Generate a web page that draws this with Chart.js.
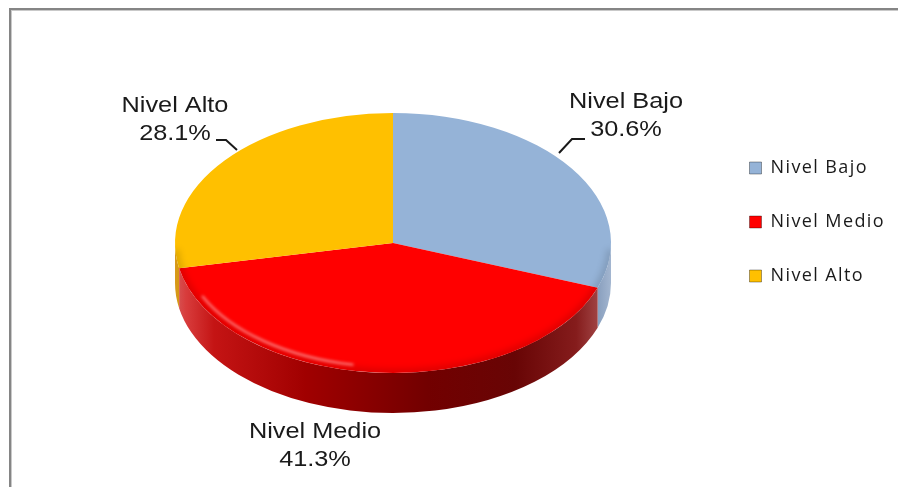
<!DOCTYPE html>
<html>
<head>
<meta charset="utf-8">
<script src="https://cdn.jsdelivr.net/npm/chart.js@4/dist/chart.umd.min.js"></script>
<style>
  html, body { margin: 0; padding: 0; background: #ffffff; overflow: hidden; }
  canvas { display: block; }
</style>
</head>
<body>
<canvas id="chart" width="898" height="487"></canvas>
<script>
// Distribution by level (percent)
const categories = ['Nivel Bajo', 'Nivel Medio', 'Nivel Alto'];
const percentages = [30.6, 41.3, 28.1];
const sliceColors = ['#95b3d7', '#ff0000', '#ffc000'];

// Tilted disc geometry on screen
const DISC = { cx: 393, cy: 243, rx: 218, ry: 130, depth: 40 };

// Horizontal shading of each slice's visible side wall
const sideShades = [
  [[0, '#7d93b3'], [0.85, '#5f779b'], [0.95, '#7890b2'], [1, '#a3b6d0']],
  [[0, '#d65858'], [0.025, '#d83c3c'], [0.09, '#c41414'], [0.3, '#a00000'],
   [0.58, '#720000'], [0.78, '#680505'], [0.92, '#851c1c'], [1, '#b05a5a']],
  [[0, '#d89a1a'], [0.05, '#c88c00'], [0.3, '#a87400'], [1, '#805800']]
];

// Data label placement (centre x, baselines) and leader polylines
const labelSpots = [
  { x: 626, base: [108, 136], leader: [[585, 139], [572, 139], [559, 153]] },
  { x: 315, base: [438, 466], leader: null },
  { x: 175, base: [112, 140], leader: [[216, 140], [226, 140], [237, 150]] }
];

const LEGEND_TRACKING = '1.4px';
const TAU = Math.PI * 2;

// Parts of an angular range that face the viewer (lower half of the ellipse)
function frontSpans(a, b) {
  const spans = [];
  for (let n = -2; n <= 2; n++) {
    const s = Math.max(a + n * TAU, 0);
    const e = Math.min(b + n * TAU, Math.PI);
    if (e > s) spans.push([s, e]);
  }
  return spans;
}

const tiltedPie = {
  id: 'tiltedPie',
  beforeLayout(chart) {
    // legend measures its text with the same tracking it is drawn with
    chart.ctx.letterSpacing = LEGEND_TRACKING;
  },
  afterLayout(chart) {
    chart.ctx.letterSpacing = '0px';
  },
  beforeDraw(chart) {
    const ctx = chart.ctx;
    // outer frame
    ctx.save();
    ctx.fillStyle = '#858585';
    ctx.fillRect(9, 8, 889, 2);
    ctx.fillRect(9, 8, 2, 479);
    ctx.fillStyle = '#c9c9c9';
    ctx.fillRect(11, 10, 887, 1);
    ctx.fillRect(11, 10, 1, 477);
    ctx.restore();
    ctx.letterSpacing = LEGEND_TRACKING;
  },
  beforeDatasetsDraw(chart) {
    const ctx = chart.ctx;
    ctx.letterSpacing = '0px';
    const meta = chart.getDatasetMeta(0);
    const { cx, cy, rx, ry, depth } = DISC;
    // side walls first
    meta.data.forEach((arc, i) => {
      const { startAngle, endAngle } = arc.getProps(['startAngle', 'endAngle'], true);
      frontSpans(startAngle, endAngle).forEach(([s, e]) => {
        const g = ctx.createLinearGradient(cx - rx, 0, cx + rx, 0);
        sideShades[i].forEach(([t, c]) => g.addColorStop(t, c));
        ctx.beginPath();
        ctx.ellipse(cx, cy, rx, ry, 0, s, e);
        ctx.ellipse(cx, cy + depth, rx, ry, 0, e, s, true);
        ctx.closePath();
        ctx.fillStyle = g;
        ctx.fill();
      });
    });
    // squash the pie top into the tilted ellipse
    const a0 = meta.data[0];
    ctx.save();
    ctx.translate(cx, cy);
    ctx.scale(rx / a0.outerRadius, ry / a0.outerRadius);
    ctx.translate(-a0.x, -a0.y);
  },
  afterDatasetsDraw(chart) {
    const ctx = chart.ctx;
    ctx.restore();
    const { cx, cy, rx, ry } = DISC;

    // rounded rim: soft darkening plus a glossy streak on the front edge
    ctx.save();
    ctx.beginPath();
    ctx.ellipse(cx, cy, rx, ry, 0, 0, TAU);
    ctx.clip();
    ctx.filter = 'blur(3px)';
    ctx.strokeStyle = 'rgba(0,0,0,0.13)';
    ctx.lineWidth = 8;
    ctx.beginPath();
    ctx.ellipse(cx, cy, rx, ry, 0, 0.05, Math.PI - 0.05);
    ctx.stroke();
    ctx.filter = 'blur(1.5px)';
    ctx.strokeStyle = 'rgba(255,255,255,0.55)';
    ctx.lineWidth = 2;
    ctx.beginPath();
    ctx.ellipse(cx, cy, rx - 7, ry - 6, 0, Math.PI * 0.56, Math.PI * 0.86);
    ctx.stroke();
    ctx.restore();

    // data labels
    ctx.save();
    ctx.fillStyle = '#1a1a1a';
    ctx.strokeStyle = '#1a1a1a';
    ctx.font = '22px "Liberation Sans", Arial, sans-serif';
    ctx.textAlign = 'center';
    ctx.textBaseline = 'alphabetic';
    labelSpots.forEach((spot, i) => {
      const lines = [categories[i], percentages[i].toFixed(1) + '%'];
      lines.forEach((txt, j) => {
        ctx.save();
        ctx.translate(spot.x, spot.base[j]);
        ctx.scale(1.15, 1);
        ctx.fillText(txt, 0, 0);
        ctx.restore();
      });
      if (spot.leader) {
        ctx.lineWidth = 2;
        ctx.beginPath();
        spot.leader.forEach(([x, y], k) => k ? ctx.lineTo(x, y) : ctx.moveTo(x, y));
        ctx.stroke();
      }
    });
    ctx.restore();
  }
};

const baseLabels = Chart.overrides.doughnut.plugins.legend.labels.generateLabels;

new Chart(document.getElementById('chart'), {
  type: 'pie',
  data: {
    labels: categories,
    datasets: [{
      data: percentages,
      backgroundColor: sliceColors,
      borderWidth: 0,
      radius: DISC.rx,
      clip: false
    }]
  },
  options: {
    responsive: false,
    animation: false,
    events: [],
    layout: { padding: { top: 0, left: 0, right: 3, bottom: 43 } },
    plugins: {
      tooltip: { enabled: false },
      legend: {
        position: 'right',
        align: 'center',
        labels: {
          boxWidth: 12,
          boxHeight: 12,
          padding: 36,
          color: '#1a1a1a',
          font: { family: '"Open Sans", sans-serif', size: 18 },
          generateLabels(chart) {
            return baseLabels(chart).map(item => Object.assign(item, {
              strokeStyle: 'rgba(0,0,0,0.35)',
              lineWidth: 1
            }));
          }
        }
      }
    }
  },
  plugins: [tiltedPie]
});
</script>
</body>
</html>
